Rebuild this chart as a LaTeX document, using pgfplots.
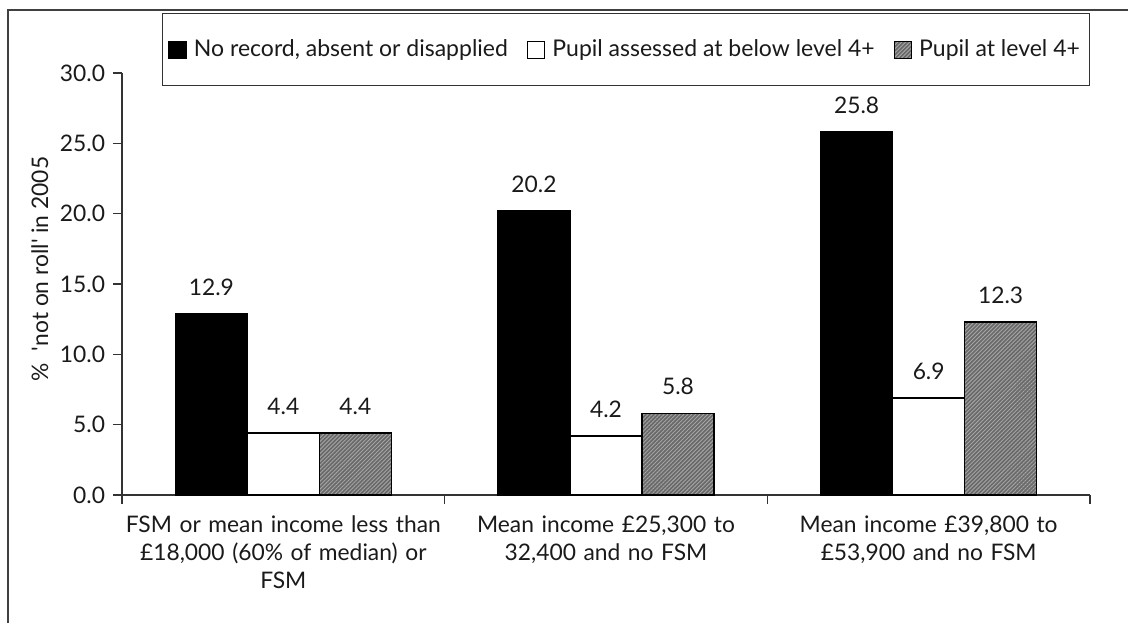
\documentclass[border=0pt]{standalone}
\usepackage{fontspec}
\setmainfont{Lato}
\usepackage{pgfplots}
\pgfplotsset{compat=1.18}
\usetikzlibrary{patterns.meta}
\definecolor{txt}{HTML}{1A1A1A}
\definecolor{patfill}{RGB}{105,105,105}
\definecolor{patline}{RGB}{165,165,165}
\begin{document}
\fontsize{11.4}{14}\selectfont
\begin{tikzpicture}
\useasboundingbox (0,0) rectangle (564pt,311.5pt);
\draw[line width=0.9pt, black!75] (4pt,0) -- (4pt,306.5pt) -- (564pt,306.5pt);
\begin{axis}[
  at={(61pt,64pt)}, anchor=south west,
  scale only axis, width=484pt, height=211pt,
  ybar=0pt, bar width=36pt,
  ymin=0, ymax=30, ytick={0,5,...,30},
  xmin=-0.5, xmax=2.5, xtick={0,1,2},
  minor xtick={-0.5,0.5,1.5,2.5},
  xticklabels={{FSM or mean income less than\\\pounds18,000 (60\% of median) or\\FSM},
               {Mean income \pounds25,300 to\\32,400 and no FSM},
               {Mean income \pounds39,800 to\\\pounds53,900 and no FSM}},
  xticklabel style={align=center, text width=170pt, yshift=-2pt, text=txt,
    execute at begin node={\setlength{\baselineskip}{14pt}}},
  yticklabel style={/pgf/number format/fixed, /pgf/number format/fixed zerofill, /pgf/number format/precision=1, /pgf/number format/assume math mode=true, text=txt},
  axis lines*=left,
  axis line style={-, black!80, line width=0.6pt},
  tick align=outside,
  major tick length=4.5pt, minor tick length=4.5pt,
  major x tick style={draw=none},
  minor x tick style={black!80, line width=0.6pt},
  major y tick style={black!80, line width=0.6pt},
  ylabel={\%\hspace{0.55em}\textquotesingle not on roll\textquotesingle{} in 2005},
  ylabel style={at={(axis description cs:-0.085,0.535)}, anchor=center, text=txt},
  nodes near coords,
  every node near coord/.append style={/pgf/number format/fixed, /pgf/number format/fixed zerofill, /pgf/number format/precision=1, /pgf/number format/assume math mode=true, yshift=5pt, text=txt},
  legend columns=3,
  legend style={at={(rel axis cs:0.0413,1.142)}, anchor=north west, draw=black!80, line width=0.5pt, inner xsep=3pt, inner ysep=11pt, text=txt,
    font=\fontsize{11.5}{14}\selectfont,
    /tikz/every odd column/.append style={column sep=1.5pt},
    /tikz/every even column/.append style={column sep=7.5pt}},
  legend image code/.code={\draw[#1] (0pt,-4.25pt) rectangle (8.5pt,4.25pt);},
]
\addplot[fill=black, draw=black, line width=0.75pt] coordinates {(0,12.9) (1,20.2) (2,25.8)};
\addplot[fill=white, draw=black, line width=0.75pt] coordinates {(0,4.4) (1,4.2) (2,6.9)};
\addplot[fill=patfill, draw=black, line width=0.75pt,
  postaction={pattern color=patline, pattern={Lines[angle=45,distance=1.4pt,line width=0.45pt]}}] coordinates {(0,4.4) (1,5.8) (2,12.3)};
\legend{{No record, absent or disapplied}, {Pupil assessed at below level 4+}, {Pupil at level 4+}}
\end{axis}
\end{tikzpicture}
\end{document}
